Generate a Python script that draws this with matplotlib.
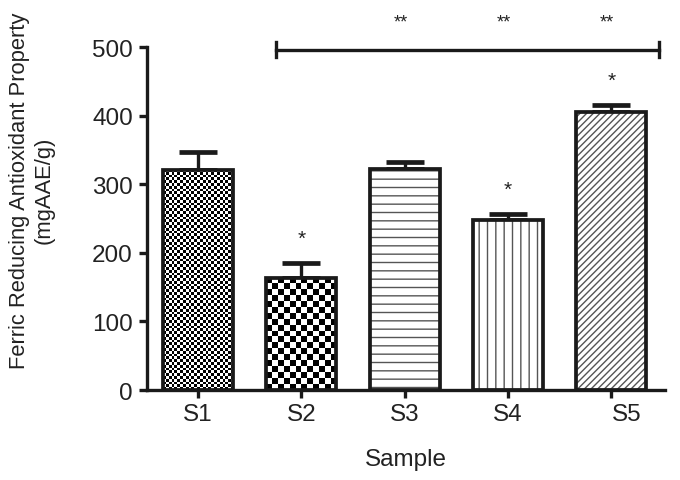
import numpy as np
import matplotlib
matplotlib.use("Agg")
from matplotlib import pyplot as plt
from matplotlib.transforms import ScaledTranslation

plt.rcParams['font.family'] = ['Liberation Sans', 'DejaVu Sans']
plt.rcParams['hatch.linewidth'] = 1.0

samples = ["S1", "S2", "S3", "S4", "S5"]
frap = [321, 164, 323, 248, 405]
frap_err = [26, 21, 9, 9, 10]
star_marks = ["", "*", "", "*", "*"]
double_marks = ["", "", "**", "**", "**"]
hatches = [None, None, "--", "||", "/////"]
checker_cells = [2.8, 5.8, 0, 0, 0]   # checker cell size in px, 0 = no checker

ink = "#1a1a1a"
txt = "#222222"
fig = plt.figure(figsize=(6.8, 4.81), dpi=100)
ax = fig.add_axes([0.216, 0.187, 0.762, 0.713])

x = np.arange(len(samples))
w = 0.68

# face / hatch
bars = ax.bar(x, frap, w, color="white", edgecolor=ink, linewidth=0, zorder=2)
for b, h in zip(bars, hatches):
    if h:
        b.set_hatch(h)
        b.set_edgecolor("#555555")

ax.set_xlim(-0.495, 4.52)
ax.set_ylim(0, 500)

# checkerboard fills (no native hatch for this)
fig.canvas.draw()
for b, xi, hi, cell in zip(bars, x, frap, checker_cells):
    if not cell:
        continue
    p0 = ax.transData.transform((xi - w / 2, 0))
    p1 = ax.transData.transform((xi + w / 2, hi))
    nx = max(1, int(round((p1[0] - p0[0]) / cell)))
    ny = max(1, int(round((p1[1] - p0[1]) / cell)))
    board = (np.add.outer(np.arange(ny), np.arange(nx)) % 2).astype(float)
    im = ax.imshow(board, cmap="gray", vmin=0.1, vmax=1, interpolation="nearest",
                   extent=[xi - w / 2, xi + w / 2, 0, hi], aspect="auto",
                   origin="lower", zorder=2.5)
    im.set_clip_path(b)

# outlines
ax.bar(x, frap, w, fill=False, edgecolor=ink, linewidth=2.7, zorder=3)

# upward error bars only
ax.errorbar(x, frap, yerr=[np.zeros(len(x)), frap_err], fmt="none",
            ecolor=ink, elinewidth=2.4, capsize=13.5, capthick=3.4, zorder=1.5)

for xi, hi, e, s in zip(x, frap, frap_err, star_marks):
    if s:
        ax.text(xi, hi + e + 36, s, ha="center", va="center", fontsize=15, color=txt)

# bracket over S2..S5
ax.plot([0.75, 4.46], [496, 496], color=ink, lw=2.4, clip_on=False, zorder=4)
for xe in (0.75, 4.46):
    ax.plot([xe, xe], [485, 507], color=ink, lw=2.4, clip_on=False, zorder=4)
for xi, s in zip(x, double_marks):
    if s:
        ax.text(xi - 0.04, 537, s, ha="center", va="center", fontsize=13, color=txt,
                clip_on=False)

ax.set_xlim(-0.495, 4.52)
ax.set_ylim(0, 500)
ax.set_yticks([0, 100, 200, 300, 400, 500])
ax.set_xticks(x)
ax.set_xticklabels(samples)
for sp in ("top", "right"):
    ax.spines[sp].set_visible(False)
for sp in ("left", "bottom"):
    ax.spines[sp].set_linewidth(2.4)
    ax.spines[sp].set_color(ink)
ax.tick_params(axis="both", direction="out", length=6, width=2.4, color=ink,
               labelsize=17.5, labelcolor=txt)
ax.tick_params(axis="y", pad=4)
ax.tick_params(axis="x", pad=3)
lab = ax.get_xticklabels()[-1]
lab.set_transform(lab.get_transform() + ScaledTranslation(0.15, 0, fig.dpi_scale_trans))
ax.set_xlabel("Sample", fontsize=17.5, color=txt, labelpad=17)
ax.set_ylabel("Ferric Reducing Antioxidant Property\n(mgAAE/g)", fontsize=15.8,
              color=txt)
ax.yaxis.set_label_coords(-0.178, 0.585)

fig.savefig("out.png", dpi=100)
